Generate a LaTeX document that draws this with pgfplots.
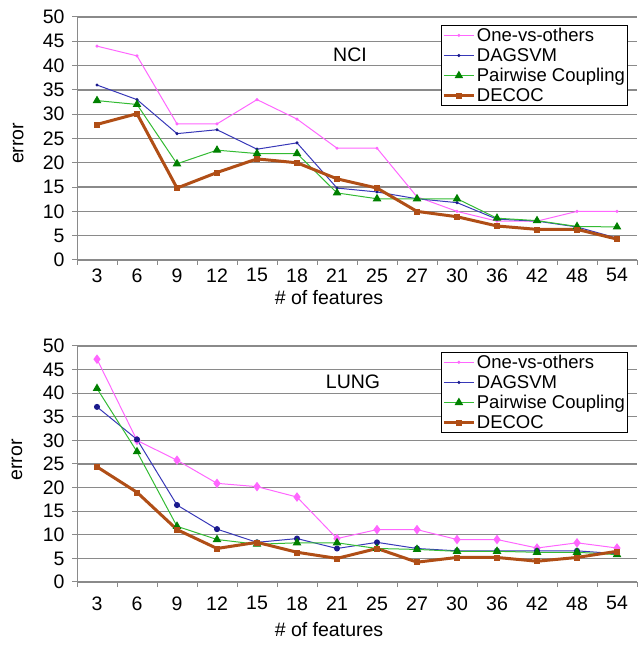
\documentclass[border=0pt]{standalone}
\usepackage{fontspec}
\setmainfont{Liberation Sans}
\usepackage{pgfplots}
\pgfplotsset{compat=1.18}
\definecolor{ovo}{HTML}{FF66FF}
\definecolor{dag}{HTML}{3838B8}
\definecolor{dagmark}{HTML}{1A1A8C}
\definecolor{pwc}{HTML}{33BB33}
\definecolor{pwcmark}{HTML}{008000}
\definecolor{decoc}{HTML}{B04E16}
\definecolor{gridgray}{HTML}{8A8A8A}

\pgfplotsset{
  errpanel/.style={
    scale only axis, width=560pt,
    xmin=-0.5, xmax=13.5, ymin=0, ymax=50,
    axis lines*=left,
    xtick={0,...,13},
    xticklabels={3,6,9,12,15,18,21,25,27,30,36,42,48,54},
    minor xtick={-0.5,0.5,...,13.5},
    major x tick style={draw=none},
    ytick distance=5,
    tick align=outside, major tick length=5pt, minor tick length=5pt,
    tick style={gridgray, line width=1pt},
    axis line style={gridgray, line width=1pt},
    ymajorgrids, grid style={gridgray, line width=1.3pt},
    /pgf/number format/assume math mode=true,
    ticklabel style={font=\fontsize{19.5}{22}\selectfont},
    yticklabel style={xshift=-4pt},
    label style={font=\fontsize{19.5}{22}\selectfont, inner sep=0pt},
    ylabel={error}, xlabel={\# of features},
    legend cell align=left,
    legend style={draw=black, line width=0.8pt, fill=white,
      font=\fontsize{18.5}{21}\selectfont, inner sep=1pt, row sep=2.5pt,
      nodes={inner sep=1.5pt}},
    legend image code/.code={
      \draw[mark repeat=2,mark phase=2,#1] plot coordinates {(0pt,0pt) (15pt,0pt) (30pt,0pt)};},
    clip=false,
  },
  ovoline/.style={ovo, line width=1pt},
  dagline/.style={dag, line width=1pt},
  pwcline/.style={pwc, line width=1pt, mark=triangle*, mark size=4pt,
    mark options={fill=pwcmark, draw=pwcmark}},
  decocline/.style={decoc, line width=3pt, mark=square*, mark size=2.5pt,
    mark options={line width=0.5pt}},
}

\begin{document}
\begin{tikzpicture}
\useasboundingbox (0,0) rectangle (637pt,647pt);

% NCI
\begin{axis}[errpanel, height=243pt, at={(77pt,387pt)}, anchor=south west,
  xticklabel style={yshift=0pt},
  ylabel style={at={(axis description cs:-0.105,0.48)}, anchor=center},
  xlabel style={at={(axis description cs:0.45,-0.155)}, anchor=center},
  legend style={at={(0.65,0.967)}, anchor=north west}]
\addplot[ovoline, mark=*, mark size=1pt] coordinates {(0,44) (1,42) (2,28) (3,28) (4,33) (5,29) (6,23) (7,23) (8,13) (9,10) (10,8) (11,8) (12,10) (13,10)};
\addplot[dagline, mark=*, mark size=1pt, mark options={fill=dagmark,draw=dagmark}] coordinates {(0,36) (1,33) (2,26) (3,26.8) (4,22.8) (5,24.1) (6,14.8) (7,14) (8,12.6) (9,11.8) (10,8.4) (11,8) (12,6.8) (13,4.5)};
\addplot[pwcline] coordinates {(0,32.8) (1,32) (2,19.8) (3,22.6) (4,21.9) (5,21.9) (6,13.8) (7,12.6) (8,12.6) (9,12.6) (10,8.6) (11,8.1) (12,6.9) (13,6.8)};
\addplot[decocline] coordinates {(0,27.9) (1,30.1) (2,14.8) (3,18) (4,20.8) (5,20) (6,16.7) (7,14.8) (8,10) (9,8.9) (10,7) (11,6.3) (12,6.3) (13,4.3)};
\legend{One-vs-others,DAGSVM,Pairwise Coupling,DECOC}
\node[font=\fontsize{19.5}{22}\selectfont] at (rel axis cs:0.4875,0.844) {NCI};
\end{axis}

% LUNG
\begin{axis}[errpanel, height=236pt, at={(77pt,65pt)}, anchor=south west,
  xticklabel style={yshift=-6pt},
  ylabel style={at={(axis description cs:-0.107,0.517)}, anchor=center},
  xlabel style={at={(axis description cs:0.45,-0.203)}, anchor=center},
  legend style={at={(0.65,0.975)}, anchor=north west}]
\addlegendimage{ovoline, mark=*, mark size=1pt}
\addlegendimage{dagline, mark=*, mark size=1pt, mark options={fill=dagmark,draw=dagmark}}
\addlegendimage{pwcline}
\addlegendimage{decocline}
\addplot[ovoline, mark=diamond*, mark size=4pt, forget plot] coordinates {(0,47.2) (1,30) (2,25.8) (3,20.9) (4,20.2) (5,18) (6,9.2) (7,11.1) (8,11.1) (9,9) (10,9) (11,7.2) (12,8.3) (13,7.2)};
\addplot[dagline, mark=*, mark size=2.5pt, mark options={fill=dagmark,draw=dagmark}, forget plot] coordinates {(0,37.1) (1,30.2) (2,16.3) (3,11.2) (4,8.4) (5,9.2) (6,7.1) (7,8.4) (8,7.1) (9,6.6) (10,6.6) (11,6.6) (12,6.6) (13,6)};
\addplot[pwcline, forget plot] coordinates {(0,41) (1,27.6) (2,11.8) (3,9) (4,8) (5,8.3) (6,8.3) (7,7.1) (8,6.9) (9,6.5) (10,6.5) (11,6.3) (12,6.3) (13,5.8)};
\addplot[decocline, forget plot] coordinates {(0,24.4) (1,19) (2,11.1) (3,7.1) (4,8.4) (5,6.3) (6,5) (7,7.1) (8,4.2) (9,5.2) (10,5.2) (11,4.4) (12,5.2) (13,6.5)};
\legend{One-vs-others,DAGSVM,Pairwise Coupling,DECOC}
\node[font=\fontsize{19.5}{22}\selectfont] at (rel axis cs:0.493,0.847) {LUNG};
\end{axis}
\end{tikzpicture}
\end{document}
